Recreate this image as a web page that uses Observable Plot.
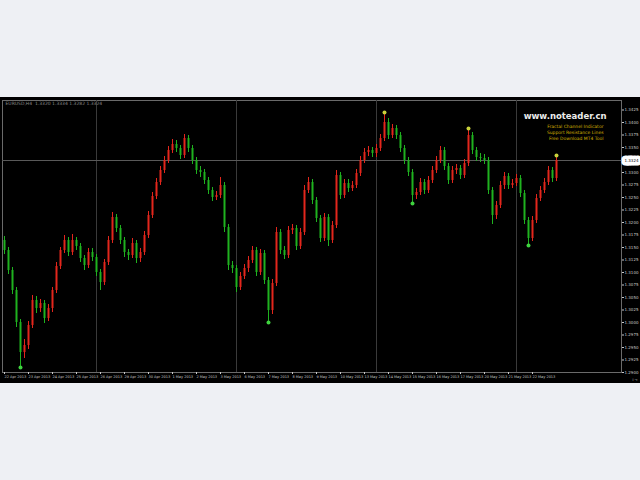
<!DOCTYPE html>
<html><head><meta charset="utf-8">
<script src="https://cdn.jsdelivr.net/npm/d3@7"></script>
<script src="https://cdn.jsdelivr.net/npm/@observablehq/plot@0.6"></script>
<style>
body{margin:0;background:#eef0f4;width:640px;height:480px;overflow:hidden;position:relative}
#chart{position:absolute;left:0;top:97px}
</style></head>
<body><div id="chart"></div>
<script>
const symbolInfo = "EURUSD,H4  1.3320 1.3334 1.3282 1.3324";
const watermark = "www.noteader.cn";
const infoLines = ["Fractal Channel Indicator", "Support Resistance Lines", "Free Download MT4 Tool"];
const firstOpen = 1.3164;
const close = [
1.3144,1.3104,1.3064,1.3000,1.2940,1.2954,1.2994,1.3044,1.3028,1.3038,
1.3008,1.3028,1.3064,1.3112,1.3144,1.3164,1.3140,1.3164,1.3152,1.3128,
1.3114,1.3140,1.3130,1.3100,1.3080,1.3120,1.3164,1.3210,1.3188,1.3164,
1.3140,1.3134,1.3158,1.3128,1.3140,1.3174,1.3214,1.3252,1.3280,1.3304,
1.3324,1.3344,1.3356,1.3348,1.3334,1.3368,1.3348,1.3324,1.3304,1.3300,
1.3284,1.3264,1.3250,1.3254,1.3274,1.3190,1.3114,1.3108,1.3070,1.3092,
1.3108,1.3124,1.3144,1.3100,1.3138,1.3084,1.3024,1.3078,1.3180,1.3144,
1.3134,1.3184,1.3188,1.3152,1.3180,1.3264,1.3280,1.3244,1.3208,1.3168,
1.3210,1.3164,1.3194,1.3294,1.3254,1.3278,1.3268,1.3274,1.3298,1.3324,
1.3340,1.3344,1.3338,1.3348,1.3368,1.3400,1.3374,1.3388,1.3374,1.3348,
1.3324,1.3300,1.3254,1.3260,1.3280,1.3264,1.3284,1.3304,1.3324,1.3344,
1.3312,1.3284,1.3304,1.3308,1.3294,1.3318,1.3374,1.3344,1.3330,1.3328,
1.3324,1.3264,1.3214,1.3234,1.3274,1.3292,1.3274,1.3278,1.3288,1.3258,
1.3204,1.3168,1.3204,1.3248,1.3264,1.3280,1.3304,1.3288,1.3324];
const high = [
1.3172,1.3150,1.3110,1.3070,1.3006,1.2966,1.3002,1.3054,1.3052,1.3046,
1.3044,1.3036,1.3070,1.3120,1.3150,1.3174,1.3170,1.3176,1.3170,1.3158,
1.3134,1.3148,1.3148,1.3136,1.3106,1.3126,1.3172,1.3220,1.3216,1.3194,
1.3170,1.3146,1.3168,1.3164,1.3148,1.3182,1.3222,1.3260,1.3288,1.3312,
1.3332,1.3352,1.3366,1.3364,1.3354,1.3376,1.3374,1.3354,1.3330,1.3312,
1.3306,1.3290,1.3270,1.3262,1.3290,1.3280,1.3196,1.3122,1.3114,1.3100,
1.3116,1.3132,1.3152,1.3150,1.3146,1.3144,1.3090,1.3086,1.3190,1.3186,
1.3152,1.3192,1.3196,1.3194,1.3188,1.3274,1.3290,1.3286,1.3250,1.3214,
1.3218,1.3216,1.3202,1.3304,1.3300,1.3286,1.3286,1.3282,1.3306,1.3332,
1.3348,1.3352,1.3350,1.3356,1.3376,1.3420,1.3408,1.3396,1.3394,1.3380,
1.3354,1.3330,1.3306,1.3268,1.3288,1.3286,1.3292,1.3312,1.3332,1.3352,
1.3350,1.3318,1.3312,1.3316,1.3314,1.3326,1.3388,1.3380,1.3350,1.3338,
1.3336,1.3330,1.3270,1.3242,1.3282,1.3300,1.3298,1.3286,1.3296,1.3294,
1.3264,1.3210,1.3212,1.3256,1.3272,1.3288,1.3312,1.3310,1.3334];
const low = [
1.3136,1.3096,1.3056,1.2990,1.2910,1.2928,1.2946,1.2988,1.3018,1.3020,
1.2998,1.3002,1.3020,1.3058,1.3106,1.3138,1.3132,1.3134,1.3144,1.3120,
1.3104,1.3108,1.3122,1.3092,1.3064,1.3074,1.3114,1.3158,1.3180,1.3156,
1.3130,1.3124,1.3128,1.3118,1.3120,1.3134,1.3168,1.3208,1.3246,1.3274,
1.3298,1.3318,1.3338,1.3340,1.3326,1.3328,1.3340,1.3316,1.3296,1.3290,
1.3276,1.3256,1.3242,1.3244,1.3248,1.3180,1.3104,1.3098,1.3060,1.3064,
1.3086,1.3100,1.3118,1.3092,1.3094,1.3076,1.3000,1.3016,1.3072,1.3136,
1.3126,1.3128,1.3176,1.3144,1.3146,1.3174,1.3258,1.3236,1.3200,1.3160,
1.3162,1.3152,1.3158,1.3188,1.3246,1.3248,1.3260,1.3262,1.3268,1.3292,
1.3318,1.3332,1.3330,1.3330,1.3342,1.3362,1.3366,1.3368,1.3366,1.3340,
1.3316,1.3292,1.3238,1.3246,1.3254,1.3256,1.3258,1.3278,1.3298,1.3318,
1.3304,1.3276,1.3278,1.3296,1.3286,1.3288,1.3312,1.3336,1.3322,1.3320,
1.3316,1.3256,1.3196,1.3206,1.3228,1.3266,1.3266,1.3268,1.3272,1.3250,
1.3196,1.3154,1.3162,1.3198,1.3242,1.3258,1.3274,1.3280,1.3282];
const fractalIdx = [4, 66, 95, 102, 116, 131, 138];
const fractalSide = ["low", "low", "high", "low", "high", "low", "high"];
const separators = [23, 58, 93, 128];
const yTicks = [1.2900,1.2925,1.2950,1.2975,1.3000,1.3025,1.3050,1.3075,1.3100,1.3125,1.3150,
  1.3175,1.3200,1.3225,1.3250,1.3275,1.3300,1.3325,1.3350,1.3375,1.3400,1.3425];
const labelIdx = [0,6,12,18,24,30,36,42,48,54,60,66,72,78,84,90,96,102,108,114,120,126,132];
const xLabels = ["22 Apr 2013","23 Apr 2013","24 Apr 2013","25 Apr 2013","26 Apr 2013","29 Apr 2013",
  "30 Apr 2013","1 May 2013","2 May 2013","3 May 2013","6 May 2013","7 May 2013","8 May 2013",
  "9 May 2013","10 May 2013","13 May 2013","14 May 2013","15 May 2013","16 May 2013","17 May 2013",
  "20 May 2013","21 May 2013","22 May 2013"];

const UP = "#e3261c", DOWN = "#1fb21f";
const candles = close.map((c, i) => ({i, open: i === 0 ? firstOpen : close[i-1], close: c, high: high[i], low: low[i]}));
const col = d => d.close >= d.open ? UP : DOWN;
const fractals = fractalIdx.map((k, j) => ({i: k, side: fractalSide[j], y: fractalSide[j] === "low" ? low[k] : high[k]}));
const lastClose = close[close.length - 1];

const chart = Plot.plot({
  width: 640, height: 286,
  marginLeft: 2, marginRight: 19, marginTop: 3, marginBottom: 11,
  style: {background: "#000", fontFamily: "DejaVu Sans", overflow: "visible"},
  x: {domain: [-0.5, 154.25], axis: null},
  y: {domain: [1.2900, 1.3444], axis: null},
  marks: [
    Plot.frame({stroke: "#6a6a6a"}),
    Plot.ruleX(separators, {stroke: "#3a3a3a"}),
    Plot.ruleY([lastClose], {stroke: "#595959"}),
    Plot.ruleX(candles, {x: "i", y1: "low", y2: "high", stroke: col, strokeWidth: 1}),
    Plot.ruleX(candles, {x: "i", y1: "open", y2: "close", stroke: col, strokeWidth: 2}),
    Plot.dot(fractals, {x: "i", y: "y", r: 2, fill: d => d.side === "low" ? "#3fd23f" : "#c9d23a", stroke: "none"}),
    Plot.axisY({anchor: "right", ticks: yTicks, tickFormat: d => d.toFixed(4), tickSize: 2, tickPadding: 1,
      fontSize: 4, color: "#c8c8c8", textAnchor: "start"}),
    Plot.axisX({ticks: labelIdx, tickFormat: d => xLabels[labelIdx.indexOf(d)], tickSize: 2, tickPadding: 1,
      fontSize: 3.5, color: "#c8c8c8", textAnchor: "start"}),
    Plot.text([lastClose], {y: d => d, frameAnchor: "right", dx: 10, text: d => d.toFixed(4), fill: "#000",
      stroke: "#fff", strokeWidth: 7, fontSize: 4, textAnchor: "middle"}),
    Plot.text([symbolInfo], {frameAnchor: "top-left", dx: 3, dy: 1, fontSize: 4.5, fill: "#8a8a8a", lineAnchor: "top", textAnchor: "start"}),
    Plot.text([watermark], {frameAnchor: "top-right", dx: -15, dy: 16, fontSize: 8.5, fontWeight: "bold", fill: "#ececec",
      textAnchor: "end", lineAnchor: "middle"}),
    Plot.text([infoLines.join("\n")], {frameAnchor: "top-right", dx: -18, dy: 23, fontSize: 4.5, lineHeight: 1.35,
      fill: "#d4b000", textAnchor: "end", lineAnchor: "top"})
  ]
});
document.getElementById("chart").appendChild(chart);
</script></body></html>
